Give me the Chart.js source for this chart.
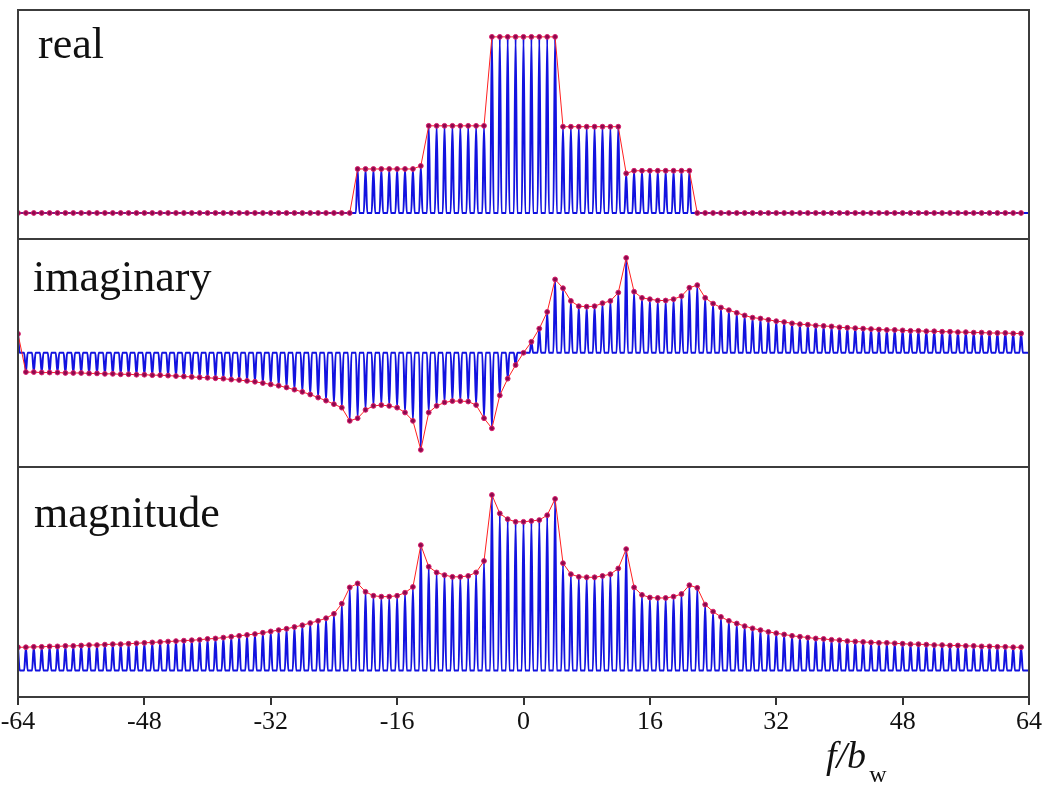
<!DOCTYPE html>
<html>
<head>
<meta charset="utf-8">
<script src="https://cdn.jsdelivr.net/npm/chart.js@4.4.0/dist/chart.umd.min.js"></script>
<style>
  body { margin: 0; background: #fff; }
  #wrap { position: relative; width: 1050px; height: 791px; overflow: hidden; background: #fff; }
  .panel { position: absolute; left: 0; width: 1050px; }
  .lbl { position: absolute; font-family: "Liberation Serif", "Times New Roman", serif; font-size: 44px; line-height: 44px; color: #111; white-space: nowrap; }
  #xlabel { position: absolute; left: 826px; top: 736px; font-family: "Liberation Serif", serif; font-style: italic; font-size: 38px; line-height: 38px; color: #111; white-space: nowrap; }
  #xlabel span { font-style: normal; font-size: 24px; vertical-align: -14px; margin-left: 3px; }
</style>
</head>
<body>
<div id="wrap">
  <div class="panel" style="top:0px;height:251px"><canvas id="cReal"></canvas></div>
  <div class="panel" style="top:227px;height:252px"><canvas id="cImag"></canvas></div>
  <div class="panel" style="top:455px;height:336px"><canvas id="cMag"></canvas></div>
  <div class="lbl" style="left:38px;top:22px">real</div>
  <div class="lbl" style="left:33px;top:255px">imaginary</div>
  <div class="lbl" style="left:34px;top:491px">magnitude</div>
  <div id="xlabel">f/b<span>w</span></div>
</div>
<script>
// frequency bins k = -64 ... 63
const bins = Array.from({ length: 128 }, (_, i) => i - 64);
const xTickValues = [-64, -48, -32, -16, 0, 16, 32, 48, 64];

// values at the bins (rows of 16 bins)
const realVals = [
  0, 0, 0, 0, 0, 0, 0, 0, 0, 0, 0, 0, 0, 0, 0, 0,
  0, 0, 0, 0, 0, 0, 0, 0, 0, 0, 0, 0, 0, 0, 0, 0,
  0, 0, 0, 0, 0, 0, 0, 0, 0, 0, 0, 1, 1, 1, 1, 1,
  1, 1, 1, 1.07, 1.98, 1.98, 1.98, 1.98, 1.98, 1.98, 1.98, 1.98, 4, 4, 4, 4,
  4, 4, 4, 4, 4, 1.96, 1.96, 1.96, 1.96, 1.96, 1.96, 1.96, 1.96, 0.9, 0.96, 0.96,
  0.96, 0.96, 0.96, 0.96, 0.96, 0.96, 0, 0, 0, 0, 0, 0, 0, 0, 0, 0,
  0, 0, 0, 0, 0, 0, 0, 0, 0, 0, 0, 0, 0, 0, 0, 0,
  0, 0, 0, 0, 0, 0, 0, 0, 0, 0, 0, 0, 0, 0, 0, 0
];
const imagVals = [
  0.43, -0.44, -0.44, -0.45, -0.45, -0.45, -0.46, -0.46, -0.46, -0.47, -0.47, -0.48, -0.48, -0.49, -0.49, -0.5,
  -0.5, -0.51, -0.51, -0.52, -0.53, -0.54, -0.55, -0.56, -0.57, -0.58, -0.59, -0.61, -0.62, -0.64, -0.66, -0.69,
  -0.72, -0.75, -0.79, -0.84, -0.89, -0.95, -1.02, -1.09, -1.17, -1.25, -1.55, -1.49, -1.3, -1.21, -1.19, -1.21,
  -1.25, -1.36, -1.55, -2.21, -1.36, -1.21, -1.13, -1.1, -1.1, -1.11, -1.19, -1.49, -1.72, -0.97, -0.59, -0.28,
  0, 0.25, 0.55, 0.93, 1.67, 1.47, 1.18, 1.06, 1.05, 1.06, 1.13, 1.18, 1.37, 2.16, 1.39, 1.25,
  1.22, 1.19, 1.19, 1.22, 1.29, 1.48, 1.54, 1.25, 1.12, 1.03, 0.97, 0.91, 0.85, 0.8, 0.78, 0.75,
  0.72, 0.7, 0.67, 0.65, 0.64, 0.62, 0.61, 0.6, 0.58, 0.57, 0.56, 0.55, 0.54, 0.53, 0.52, 0.52,
  0.51, 0.5, 0.5, 0.49, 0.49, 0.48, 0.48, 0.47, 0.47, 0.46, 0.46, 0.45, 0.45, 0.45, 0.44, 0.44
];
const magVals = [
  0.53, 0.53, 0.54, 0.54, 0.55, 0.55, 0.56, 0.56, 0.57, 0.58, 0.58, 0.59, 0.6, 0.6, 0.61, 0.62,
  0.63, 0.64, 0.65, 0.66, 0.67, 0.68, 0.69, 0.7, 0.72, 0.73, 0.75, 0.77, 0.79, 0.81, 0.83, 0.86,
  0.89, 0.92, 0.95, 0.99, 1.03, 1.08, 1.13, 1.19, 1.29, 1.52, 1.89, 1.98, 1.79, 1.7, 1.68, 1.68,
  1.7, 1.77, 1.9, 2.85, 2.36, 2.23, 2.17, 2.13, 2.13, 2.15, 2.23, 2.49, 3.99, 3.57, 3.44, 3.38,
  3.38, 3.4, 3.42, 3.53, 3.9, 2.44, 2.19, 2.13, 2.12, 2.12, 2.15, 2.19, 2.32, 2.76, 1.89, 1.72,
  1.66, 1.65, 1.65, 1.68, 1.74, 1.94, 1.88, 1.5, 1.34, 1.22, 1.13, 1.07, 1.01, 0.96, 0.92, 0.88,
  0.85, 0.82, 0.79, 0.77, 0.75, 0.73, 0.72, 0.7, 0.69, 0.67, 0.66, 0.65, 0.64, 0.63, 0.63, 0.62,
  0.61, 0.6, 0.6, 0.59, 0.58, 0.58, 0.57, 0.57, 0.56, 0.56, 0.55, 0.55, 0.54, 0.54, 0.53, 0.53
];
// level of the blue curve between the peaks
const troughLevel = 0;

const SERIF = '"Liberation Serif", "Times New Roman", serif';

// blue comb: peak on each bin, back down to the trough level in between
function combPoints(vals) {
  const pts = [];
  bins.forEach((k, i) => {
    if (i > 0) pts.push({ x: k - 0.5, y: troughLevel }, { x: k - 0.22, y: troughLevel });
    pts.push({ x: k, y: vals[i] });
    pts.push({ x: k + 0.22, y: troughLevel });
  });
  pts.push({ x: 64, y: troughLevel });
  return pts;
}

const frame = {
  id: 'frame',
  afterDraw(chart) {
    const { ctx, chartArea: a } = chart;
    ctx.save();
    ctx.strokeStyle = '#3c3c3c';
    ctx.lineWidth = 2;
    ctx.strokeRect(a.left, a.top, a.right - a.left, a.bottom - a.top);
    ctx.restore();
  }
};

function makeChart(id, vals, yMin, yMax, padding, withAxis) {
  const xScale = {
    type: 'linear', min: -64, max: 64, display: withAxis,
    afterBuildTicks: s => { s.ticks = xTickValues.map(v => ({ value: v })); },
    grid: { drawOnChartArea: false, drawTicks: true, tickLength: 8, color: '#333', lineWidth: 2 },
    border: { display: true, color: '#333', width: 2 },
    ticks: { color: '#111', font: { family: SERIF, size: 26 }, padding: 2, maxRotation: 0, autoSkip: false }
  };
  if (withAxis) {
    xScale.afterFit = s => {
      s.height = 60;
      // end labels may hang over the frame, like in the original
      s.paddingLeft = 0;
      s.paddingRight = 0;
    };
  }
  return new Chart(document.getElementById(id), {
    type: 'line',
    data: {
      datasets: [
        {
          data: bins.map((k, i) => ({ x: k, y: vals[i] })),
          borderColor: '#ff2020', borderWidth: 1, tension: 0,
          pointRadius: 2.4, pointBackgroundColor: '#8c0a4c', pointBorderColor: '#d81c6a', pointBorderWidth: 1,
          order: 0
        },
        {
          data: combPoints(vals),
          borderColor: '#1212e0', borderWidth: 2, pointRadius: 0,
          cubicInterpolationMode: 'monotone',
          order: 1
        }
      ]
    },
    options: {
      responsive: true, maintainAspectRatio: false, animation: false, events: [],
      layout: { padding },
      plugins: { legend: { display: false }, tooltip: { enabled: false } },
      scales: { x: xScale, y: { min: yMin, max: yMax, display: false } }
    },
    plugins: [frame]
  });
}

makeChart('cReal', realVals, -0.59, 4.61, { left: 18, right: 21, top: 10, bottom: 12 }, false);
makeChart('cImag', imagVals, -2.6, 2.59, { left: 18, right: 21, top: 12, bottom: 12 }, false);
makeChart('cMag', magVals, -0.6, 4.625, { left: 18, right: 21, top: 12, bottom: 34 }, true);
</script>
</body>
</html>
